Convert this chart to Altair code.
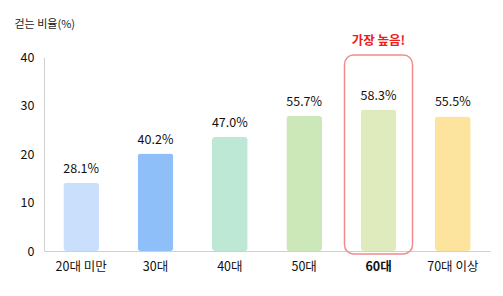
import altair as alt
import pandas as pd

categories = ["20대 미만", "30대", "40대", "50대", "60대", "70대 이상"]
bar_heights = [14.05, 20.1, 23.5, 27.85, 29.15, 27.75]
value_labels = ["28.1%", "40.2%", "47.0%", "55.7%", "58.3%", "55.5%"]
colors = ["#c9dffb", "#8fbff9", "#bde8d6", "#cde8b8", "#dfebbd", "#fde49e"]
y_ticks = [0, 10, 20, 30, 40]
highlight = "60대"
highlight_text = "가장 높음!"

df = pd.DataFrame({"cat": categories, "h": bar_heights, "label": value_labels})
FONT = "Noto Sans CJK KR"

x = alt.X("cat:N", sort=categories,
          scale=alt.Scale(paddingInner=0.52, paddingOuter=0.26),
          axis=alt.Axis(title=None, labelAngle=0, labelFontSize=12.5, labelColor="#111",
                        labelPadding=9, ticks=False, domainColor="#d0d0d0",
                        labelFont=FONT,
                        labelFontWeight=alt.condition(alt.datum.value == highlight,
                                                      alt.value("bold"), alt.value("normal"))))
yscale = alt.Scale(domain=[0, 40])

bars = alt.Chart(df).mark_bar(cornerRadius=3).encode(
    x=x,
    y=alt.Y("h:Q", scale=yscale,
            axis=alt.Axis(values=y_ticks, title="걷는 비율(%)", titleAngle=0, titleAlign="left",
                          titleBaseline="middle", titleX=-30, titleY=-33, titleFontSize=11,
                          titleFontWeight="normal", titleColor="#222", titleFont=FONT,
                          labelFontSize=12.5, labelColor="#111", labelPadding=10, labelFont=FONT,
                          ticks=False, grid=False, domainColor="#d0d0d0")),
    color=alt.Color("cat:N", scale=alt.Scale(domain=categories, range=colors), legend=None),
)

texts = alt.Chart(df).mark_text(dy=-14, fontSize=12.5, color="#111", font=FONT).encode(
    x=alt.X("cat:N", sort=categories), y=alt.Y("h:Q", scale=yscale), text="label:N"
)

hl = pd.DataFrame({"cat": [highlight], "top": [40.4], "bot": [-0.6], "t": [highlight_text]})
box = alt.Chart(hl).mark_bar(size=68, cornerRadius=9, fill=None, fillOpacity=0,
                             stroke="#f28b8b", strokeWidth=1.5).encode(
    x=alt.X("cat:N", sort=categories), y=alt.Y("top:Q", scale=yscale), y2="bot:Q"
)
hl_text = alt.Chart(hl).mark_text(dy=-14, fontSize=12.5, fontWeight="bold", color="#ee1c1c",
                                  font=FONT).encode(
    x=alt.X("cat:N", sort=categories), y=alt.Y("top:Q", scale=yscale), text="t:N"
)

chart = alt.layer(bars, box, texts, hl_text).properties(
    width=446, height=194,
    autosize=alt.AutoSizeParams(type="none"),
    padding={"left": 44, "top": 57, "right": 13, "bottom": 45},
    background="white",
).configure_view(stroke=None)

chart.save("out.html", embed_options={"renderer": "svg", "actions": False})
